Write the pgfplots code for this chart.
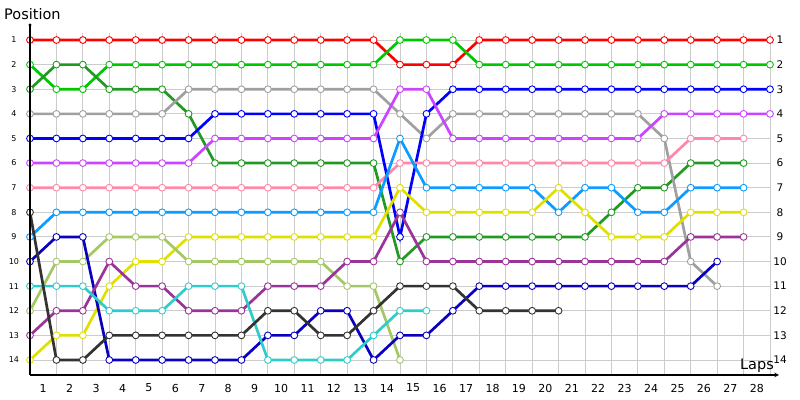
\documentclass[border=0pt]{standalone}
\usepackage{pgfplots}
\pgfplotsset{compat=1.18}
\usepackage{fontspec}
\setmainfont{DejaVu Sans}
\definecolor{cRed}{HTML}{FF0000}
\definecolor{cBGreen}{HTML}{00C800}
\definecolor{cDGreen}{HTML}{229A22}
\definecolor{cGray}{HTML}{A0A0A0}
\definecolor{cBlue}{HTML}{0000FF}
\definecolor{cViolet}{HTML}{CC44FF}
\definecolor{cPink}{HTML}{FF88AA}
\definecolor{cLBlue}{HTML}{0C9CFF}
\definecolor{cYellow}{HTML}{E0E000}
\definecolor{cOlive}{HTML}{A4C864}
\definecolor{cNavy}{HTML}{0A00C0}
\definecolor{cPurple}{HTML}{9A3498}
\definecolor{cCyan}{HTML}{30CCCC}
\definecolor{cBlack}{HTML}{333333}
\pgfplotsset{
  series/.style={color=#1, line width=2.7pt, mark=*, mark size=3.4pt,
    mark options={fill=white, draw=#1, line width=0.9pt, solid}},
}
\begin{document}
\begin{tikzpicture}
\begin{axis}[name=ax, at={(0,0)}, anchor=south west,
  scale only axis, width=740pt, height=342pt,
  xmin=0, xmax=28, ymin=0.715, ymax=14.61, y dir=reverse,
  axis line style={draw=none},
  clip=false,
  /pgf/number format/assume math mode=true,
  xtick={0.5,1.5,...,27.5},
  xticklabels={1,2,3,4,5,6,7,8,9,10,11,12,13,14,15,16,17,18,19,20,21,22,23,24,25,26,27,28},
  minor xtick={1,2,...,28},
  xminorgrids=true, xmajorgrids=false,
  ytick={1,...,14}, ymajorgrids=true,
  grid style={draw=black!20, line width=0.9pt},
  minor grid style={draw=black!20, line width=0.9pt},
  major tick length=0pt, minor tick length=0pt,
  xticklabel style={font=\fontsize{11}{12}\selectfont, anchor=center, yshift=-13pt},
  yticklabel style={font=\fontsize{8}{9}\selectfont, anchor=center, xshift=-16pt},
]
\addplot[series=cRed] coordinates {(0,1)(1,1)(2,1)(3,1)(4,1)(5,1)(6,1)(7,1)(8,1)(9,1)(10,1)(11,1)(12,1)(13,1)(14,2)(15,2)(16,2)(17,1)(18,1)(19,1)(20,1)(21,1)(22,1)(23,1)(24,1)(25,1)(26,1)(27,1)(28,1)};
\addplot[series=cBGreen] coordinates {(0,2)(1,3)(2,3)(3,2)(4,2)(5,2)(6,2)(7,2)(8,2)(9,2)(10,2)(11,2)(12,2)(13,2)(14,1)(15,1)(16,1)(17,2)(18,2)(19,2)(20,2)(21,2)(22,2)(23,2)(24,2)(25,2)(26,2)(27,2)(28,2)};
\addplot[series=cDGreen] coordinates {(0,3)(1,2)(2,2)(3,3)(4,3)(5,3)(6,4)(7,6)(8,6)(9,6)(10,6)(11,6)(12,6)(13,6)(14,10)(15,9)(16,9)(17,9)(18,9)(19,9)(20,9)(21,9)(22,8)(23,7)(24,7)(25,6)(26,6)(27,6)};
\addplot[series=cGray] coordinates {(0,4)(1,4)(2,4)(3,4)(4,4)(5,4)(6,3)(7,3)(8,3)(9,3)(10,3)(11,3)(12,3)(13,3)(14,4)(15,5)(16,4)(17,4)(18,4)(19,4)(20,4)(21,4)(22,4)(23,4)(24,5)(25,10)(26,11)};
\addplot[series=cBlue] coordinates {(0,5)(1,5)(2,5)(3,5)(4,5)(5,5)(6,5)(7,4)(8,4)(9,4)(10,4)(11,4)(12,4)(13,4)(14,9)(15,4)(16,3)(17,3)(18,3)(19,3)(20,3)(21,3)(22,3)(23,3)(24,3)(25,3)(26,3)(27,3)(28,3)};
\addplot[series=cViolet] coordinates {(0,6)(1,6)(2,6)(3,6)(4,6)(5,6)(6,6)(7,5)(8,5)(9,5)(10,5)(11,5)(12,5)(13,5)(14,3)(15,3)(16,5)(17,5)(18,5)(19,5)(20,5)(21,5)(22,5)(23,5)(24,4)(25,4)(26,4)(27,4)(28,4)};
\addplot[series=cPink] coordinates {(0,7)(1,7)(2,7)(3,7)(4,7)(5,7)(6,7)(7,7)(8,7)(9,7)(10,7)(11,7)(12,7)(13,7)(14,6)(15,6)(16,6)(17,6)(18,6)(19,6)(20,6)(21,6)(22,6)(23,6)(24,6)(25,5)(26,5)(27,5)};
\addplot[series=cLBlue] coordinates {(0,9)(1,8)(2,8)(3,8)(4,8)(5,8)(6,8)(7,8)(8,8)(9,8)(10,8)(11,8)(12,8)(13,8)(14,5)(15,7)(16,7)(17,7)(18,7)(19,7)(20,8)(21,7)(22,7)(23,8)(24,8)(25,7)(26,7)(27,7)};
\addplot[series=cYellow] coordinates {(0,14)(1,13)(2,13)(3,11)(4,10)(5,10)(6,9)(7,9)(8,9)(9,9)(10,9)(11,9)(12,9)(13,9)(14,7)(15,8)(16,8)(17,8)(18,8)(19,8)(20,7)(21,8)(22,9)(23,9)(24,9)(25,8)(26,8)(27,8)};
\addplot[series=cOlive] coordinates {(0,12)(1,10)(2,10)(3,9)(4,9)(5,9)(6,10)(7,10)(8,10)(9,10)(10,10)(11,10)(12,11)(13,11)(14,14)};
\addplot[series=cNavy] coordinates {(0,10)(1,9)(2,9)(3,14)(4,14)(5,14)(6,14)(7,14)(8,14)(9,13)(10,13)(11,12)(12,12)(13,14)(14,13)(15,13)(16,12)(17,11)(18,11)(19,11)(20,11)(21,11)(22,11)(23,11)(24,11)(25,11)(26,10)};
\addplot[series=cPurple] coordinates {(0,13)(1,12)(2,12)(3,10)(4,11)(5,11)(6,12)(7,12)(8,12)(9,11)(10,11)(11,11)(12,10)(13,10)(14,8)(15,10)(16,10)(17,10)(18,10)(19,10)(20,10)(21,10)(22,10)(23,10)(24,10)(25,9)(26,9)(27,9)};
\addplot[series=cCyan] coordinates {(0,11)(1,11)(2,11)(3,12)(4,12)(5,12)(6,11)(7,11)(8,11)(9,14)(10,14)(11,14)(12,14)(13,13)(14,12)(15,12)};
\addplot[series=cBlack] coordinates {(0,8)(1,14)(2,14)(3,13)(4,13)(5,13)(6,13)(7,13)(8,13)(9,12)(10,12)(11,13)(12,13)(13,12)(14,11)(15,11)(16,11)(17,12)(18,12)(19,12)(20,12)};
\end{axis}
\begin{axis}[at={(0,0)}, anchor=south west,
  scale only axis, width=740pt, height=342pt,
  xmin=0, xmax=28, ymin=0.715, ymax=14.61, y dir=reverse,
  axis line style={draw=none},
  /pgf/number format/assume math mode=true,
  xtick=\empty, ytick={1,...,14}, yticklabel pos=right,
  major tick length=0pt,
  yticklabel style={font=\fontsize{10.5}{12}\selectfont, anchor=center, xshift=10pt},
]
\end{axis}
\draw[line width=1.1pt] ([yshift=8pt]ax.north west) -- (ax.south west);
\draw[line width=1.1pt, -stealth] (ax.south west) -- ([xshift=9pt]ax.south east);
\fill ([yshift=8pt]ax.north west) circle (1.6pt);
\node[anchor=base west, inner sep=0pt, font=\fontsize{14.5}{16}\selectfont] at ([xshift=-26pt,yshift=13pt]ax.north west) {Position};
\node[anchor=base east, inner sep=0pt, font=\fontsize{14.5}{16}\selectfont] at ([xshift=4pt,yshift=5pt]ax.south east) {Laps};
\pgfresetboundingbox
\path ([xshift=-30pt,yshift=-25pt]ax.south west) rectangle ([xshift=30pt,yshift=33pt]ax.north east);
\end{tikzpicture}
\end{document}
